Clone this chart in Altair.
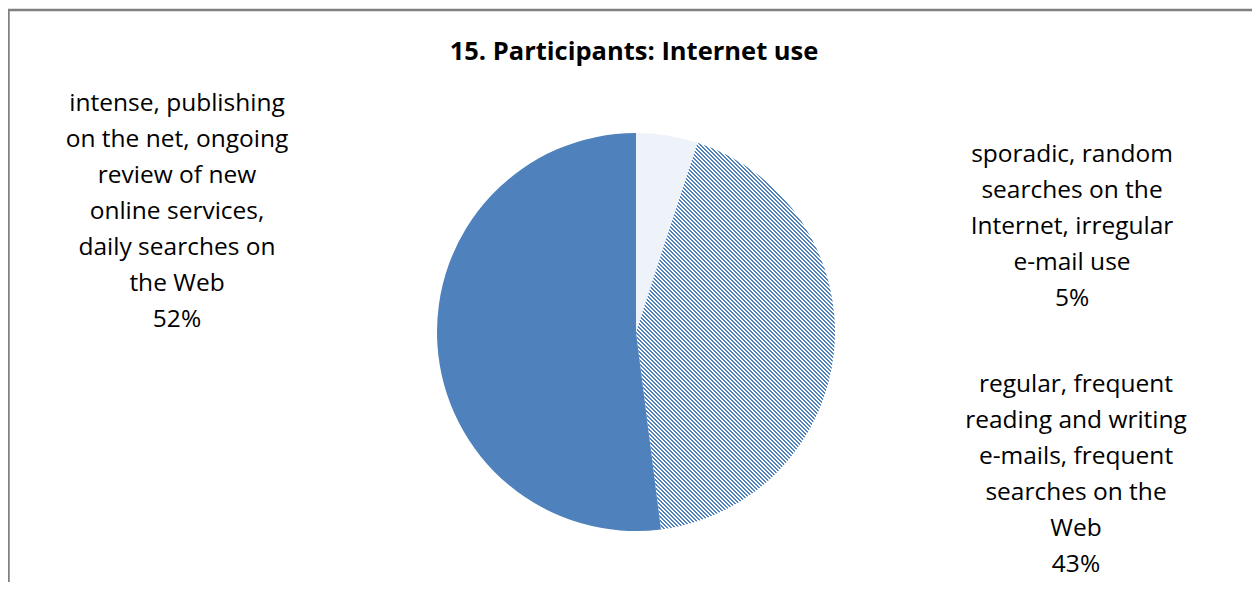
import math
import altair as alt
import pandas as pd

# ---- data ----
categories = ["sporadic", "regular", "intense"]
values = [5, 43, 52]
label_lines = [
    ["sporadic, random", "searches on the", "Internet, irregular", "e-mail use"],
    ["regular, frequent", "reading and writing", "e-mails, frequent", "searches on the", "Web"],
    ["intense, publishing", "on the net, ongoing", "review of new", "online services,", "daily searches on", "the Web"],
]
title_text = "15. Participants: Internet use"

labels = ["\n".join(lines + [f"{v}%"]) for lines, v in zip(label_lines, values)]
df = pd.DataFrame({
    "category": categories,
    "value": values,
    "order": list(range(len(categories))),
    "label": labels,
})

W, H = 1244, 574
CX, CY, R = 628, 324, 199
BLUE = "#4f81bd"
FONT = "Open Sans"

# bounding box of the 43% wedge (needed so the hatch lies at 45 deg, 4 px period)
a0 = 2 * math.pi * values[0] / 100
a1 = 2 * math.pi * (values[0] + values[1]) / 100
bw = R
bh = R * math.cos(a0) - R * math.cos(a1)
ratio = bh / bw
s = (1 + ratio) / (1 + ratio ** 2)
period = 4.0 / (bw + bh)


def hatch(frac=0.36, color=BLUE, bg="#ffffff"):
    stops = []
    i = 0
    while i * period < 1:
        a = i * period
        b = min((i + frac) * period, 1)
        c = min((i + 1) * period, 1)
        stops += [
            {"offset": a, "color": color},
            {"offset": b, "color": color},
            {"offset": b, "color": bg},
            {"offset": c, "color": bg},
        ]
        i += 1
    return {"gradient": "linear", "x1": 0, "y1": 1, "x2": s, "y2": 1 - s * ratio, "stops": stops}


fills = {
    "sporadic": "#eef2f9",
    "regular": hatch(),
    "intense": BLUE,
}

base = alt.Chart(df).transform_window(
    cum="sum(value)", sort=[alt.SortField("order")], frame=[None, 0]
).transform_calculate(start="datum.cum - datum.value")

theta_scale = alt.Scale(domain=[0, 100], range=[0, 2 * math.pi])

slices = []
for cat in categories:
    slices.append(
        base.transform_filter(alt.datum.category == cat)
        .mark_arc(fill=fills[cat], outerRadius=R, strokeWidth=0)
        .encode(
            theta=alt.Theta("start:Q", scale=theta_scale),
            theta2="cum:Q",
            x=alt.value(CX),
            y=alt.value(CY),
        )
    )

# (x centre, y of first line centre) in chart pixels
label_pos = {
    "sporadic": (1064, 147),
    "regular": (1068, 377),
    "intense": (169, 96),
}
texts = []
for cat in categories:
    px, py = label_pos[cat]
    texts.append(
        alt.Chart(df).transform_filter(alt.datum.category == cat)
        .mark_text(font=FONT, fontSize=24.5, lineBreak="\n", lineHeight=36,
                   align="center", baseline="middle", color="#000000")
        .encode(text="label:N", x=alt.value(px), y=alt.value(py))
    )

one = alt.Chart(alt.Data(values=[{"t": title_text}]))
title = one.mark_text(font=FONT, fontSize=25.5, fontWeight="bold", align="center",
                      baseline="middle", color="#000000").encode(
    text="t:N", x=alt.value(626), y=alt.value(44))

border_top = one.mark_rule(color="#808080", strokeWidth=2.5).encode(
    x=alt.value(0), x2=alt.value(W), y=alt.value(2))
border_left = one.mark_rule(color="#808080", strokeWidth=2.5).encode(
    x=alt.value(0.5), y=alt.value(2), y2=alt.value(H))

chart = alt.layer(border_top, border_left, *slices, *texts, title).properties(
    width=W, height=H, padding=0, autosize=alt.AutoSizeParams(type="none")
).configure_view(strokeWidth=0)

chart.save("out.html", embed_options={"renderer": "svg", "actions": False})
